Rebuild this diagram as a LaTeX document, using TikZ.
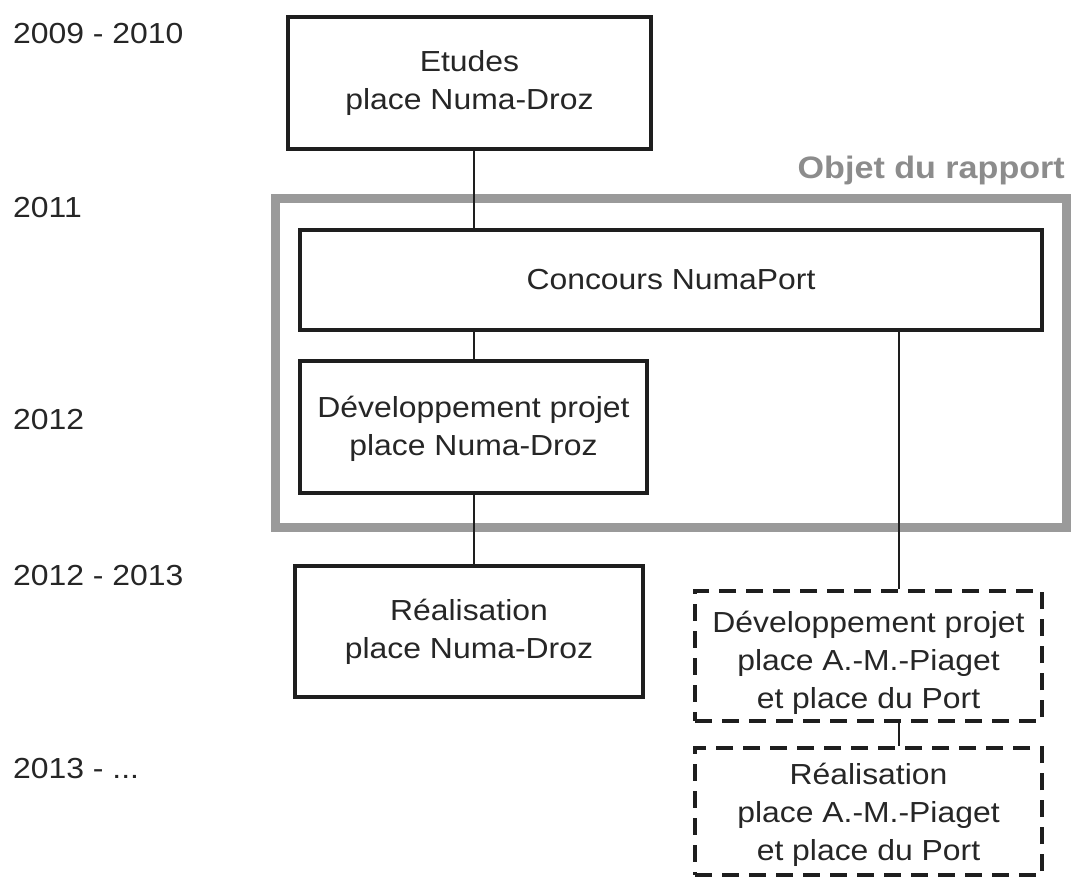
\documentclass[tikz,border=0pt]{standalone}
\usepackage{fontspec}
\setmainfont{Liberation Sans}[FakeStretch=1.1]
\newcommand\boxfont{\fontsize{29}{38}\selectfont}
\newcommand\titlefont{\fontsize{31}{36}\selectfont\bfseries}
\definecolor{ink}{HTML}{1E1E1E}
\definecolor{txt}{HTML}{262626}
\definecolor{framegray}{HTML}{9A9A9A}
\definecolor{titlegray}{HTML}{8C8C8C}
\begin{document}
\begin{tikzpicture}[x=1pt,y=-1pt,
  box/.style={draw=ink, line width=3.5pt, align=center, inner sep=0pt,
    font=\boxfont, text=txt},
  dbox/.style={box, dash pattern=on 17pt off 10pt},
  link/.style={draw=ink, line width=2.2pt},
  year/.style={anchor=base west, inner sep=0pt, font=\boxfont, text=txt},
  frameline/.style={draw=framegray, line width=9pt, inner sep=0pt}]
\useasboundingbox (0,0) rectangle (1071,878);
\fill[white] (0,0) rectangle (1071,878);

% year labels
\node[year] (y1) at (13,43) {2009 - 2010};
\node[year] (y2) at (13,217) {2011};
\node[year] (y3) at (13,429) {2012};
\node[year] (y4) at (13,585) {2012 - 2013};
\node[year] (y5) at (13,778) {2013 - ...};

% report frame
\node[frameline, minimum width=790.5pt, minimum height=329pt] (frame) at (670.75,362.5) {};
\node[anchor=base east, inner sep=0pt, font=\titlefont, text=titlegray] (title) at (1065,178) {Objet du rapport};

% boxes
\node[box, minimum width=363pt, minimum height=132pt] (etudes) at (469.5,83) {Etudes\\place Numa-Droz};
\node[box, minimum width=742pt, minimum height=100pt] (concours) at (671,280) {Concours NumaPort};
\node[box, minimum width=347pt, minimum height=132pt] (devnd) at (473.5,427) {\rule{0pt}{25pt}Développement projet\\place Numa-Droz};
\node[box, minimum width=348pt, minimum height=131pt] (realnd) at (469,631.5) {Réalisation\\place Numa-Droz};
\node[dbox, minimum width=347pt, minimum height=130pt] (devap) at (868.5,656) {\rule{0pt}{36pt}Développement projet\\place A.-M.-Piaget\\et place du Port};
\node[dbox, minimum width=347pt, minimum height=127pt] (realap) at (868.5,811.5) {\rule{0pt}{28pt}Réalisation\\place A.-M.-Piaget\\et place du Port};

% connector columns
\coordinate (lx) at (474,0);
\coordinate (rx) at (899,0);

\draw[link] (etudes.south -| lx) -- (concours.north -| lx);
\draw[link] (concours.south -| lx) -- (devnd.north -| lx);
\draw[link] (devnd.south -| lx) -- (realnd.north -| lx);
\draw[link] (concours.south -| rx) -- (devap.north -| rx);
\draw[link] (devap.south -| rx) -- (realap.north -| rx);
\end{tikzpicture}
\end{document}
